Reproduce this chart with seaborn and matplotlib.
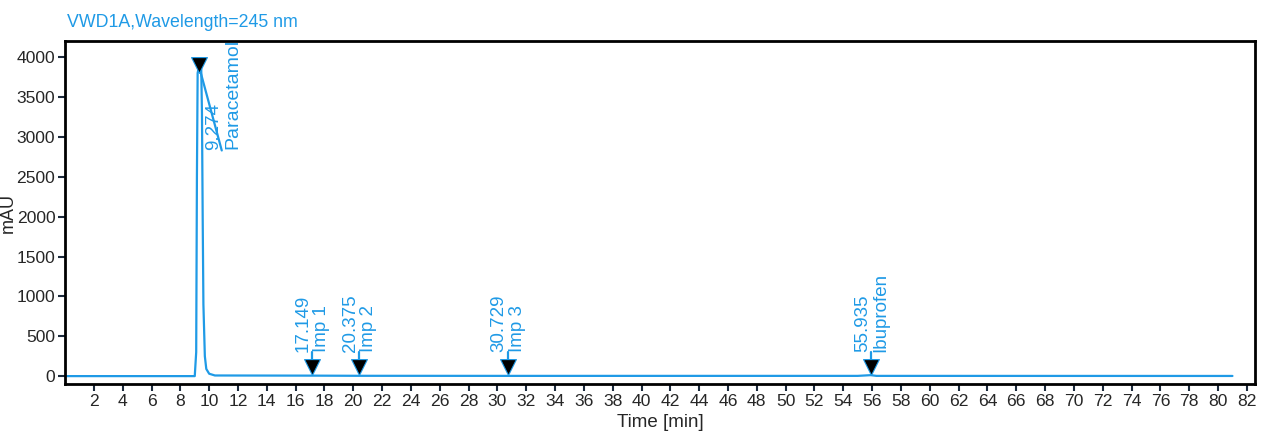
import pandas as pd
import matplotlib.pyplot as plt
import seaborn as sns

# trace points (min, mAU)
tempo = [0.0, 9.0, 9.1, 9.15, 9.2, 9.25, 9.35, 9.45, 9.5, 9.55, 9.6, 9.7, 9.8, 10.0, 10.4, 17.1, 17.2, 20.3, 20.4,
         30.7, 30.8, 55.0, 55.9, 56.3, 81.0]
sinal = [0.0, 0.0, 300.0, 2500.0, 3800.0, 3850.0, 3860.0, 3850.0, 3300.0, 2000.0, 900.0, 250.0, 90.0, 30.0, 8.0, 6.0,
         6.0, 4.0, 4.0, 3.0, 3.0, 3.0, 12.0, 3.0, 2.0]

picos_tr = [9.274, 17.149, 20.375, 30.729, 55.935]
picos_nome = ['Paracetamol', 'Imp 1', 'Imp 2', 'Imp 3', 'Ibuprofen']
picos_alt = [3900, 110, 110, 110, 110]

azul = '#1f9ae6'
escuro = '#1b2a3c'

sns.set_style('white')
plt.rcParams['font.family'] = ['Liberation Sans', 'DejaVu Sans']

dados = pd.DataFrame({'tempo': tempo, 'sinal': sinal})
picos = pd.DataFrame({'tr': picos_tr, 'nome': picos_nome, 'alt': picos_alt})

fig = plt.figure(figsize=(12.63, 4.34), dpi=100)
ax = fig.add_axes([0.0515, 0.115, 0.942, 0.79])

sns.lineplot(x='tempo', y='sinal', data=dados, color=azul, lw=1.6, ax=ax)

# marcadores dos picos
for tr, nome, alt in zip(picos['tr'], picos['nome'], picos['alt']):
    if alt > 1000:
        # pico principal: linha ate o rotulo
        ax.plot([tr, tr + 1.6], [alt, 2830], color=azul, lw=1.6)
        ax.text(tr + 1.05, 2840, f'{tr:.3f}', rotation=90, ha='center', va='bottom', color=azul, fontsize=13.5)
        ax.text(tr + 2.4, 2850, nome, rotation=90, ha='center', va='bottom', color=azul, fontsize=14,
                clip_on=True)
    else:
        ax.plot([tr, tr], [alt, 300], color=azul, lw=1.6)
        ax.text(tr - 0.6, 300, f'{tr:.3f}', rotation=90, ha='center', va='bottom', color=azul, fontsize=13.5)
        ax.text(tr + 0.65, 300, nome, rotation=90, ha='center', va='bottom', color=azul, fontsize=13.5)
sns.scatterplot(x='tr', y='alt', data=picos, marker='v', s=130, color='black', edgecolor=azul, linewidth=0.8,
                zorder=5, ax=ax)

ax.set_xlim(0, 82.55)
ax.set_ylim(-100, 4200)
ax.set_xticks(range(2, 83, 2))
ax.set_yticks(range(0, 4001, 500))
ax.tick_params(axis='both', direction='out', length=5, width=1.5, color=escuro, labelsize=12.6, pad=2,
               bottom=True, left=True)
for lado in ax.spines.values():
    lado.set_linewidth(2)
    lado.set_color('black')

ax.set_xlabel('Time [min]', fontsize=13.5, labelpad=4)
ax.set_ylabel('mAU', fontsize=13, labelpad=0)
ax.set_title('VWD1A,Wavelength=245 nm', loc='left', color=azul, fontsize=12.8, pad=10, x=0.002)

plt.savefig('out.png')
plt.close()
